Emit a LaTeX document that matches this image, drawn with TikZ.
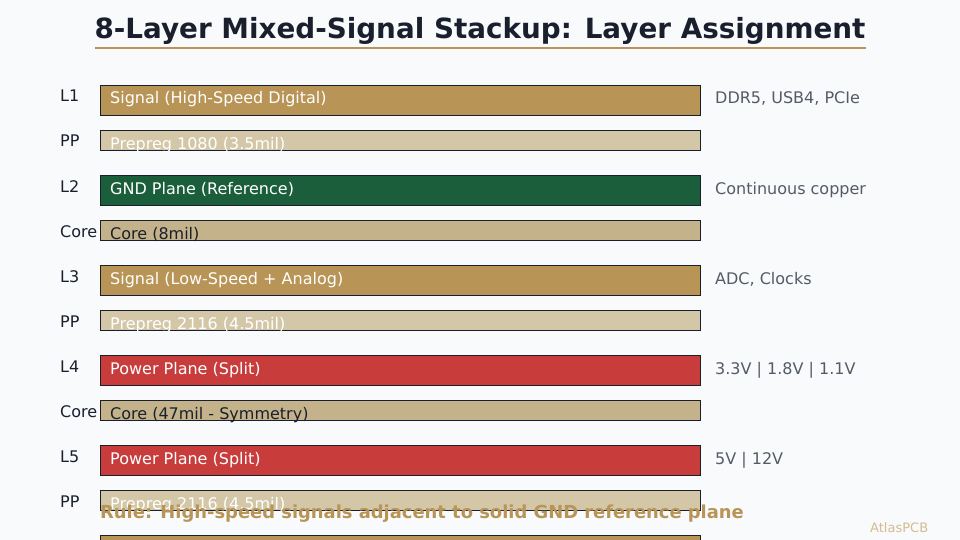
\documentclass[tikz,border=0pt]{standalone}
\usepackage{fontspec}
\setmainfont{DejaVu Sans}
\usepackage{tikz}

\definecolor{paper}{HTML}{F8FAFC}
\definecolor{ink}{HTML}{1A1F2E}
\definecolor{copper}{HTML}{B89456}
\definecolor{prepreg}{HTML}{D3C7A8}
\definecolor{corefill}{HTML}{C4B38A}
\definecolor{gndgreen}{HTML}{1B5E3B}
\definecolor{pwrred}{HTML}{C83C3C}
\definecolor{notegrey}{HTML}{555B66}
\definecolor{brand}{HTML}{D4BC90}

\begin{document}
\begin{tikzpicture}[x=1pt, y=-1pt,
  layerbar/.style={draw=ink, line width=1pt, minimum width=600pt, inner sep=0pt, anchor=north west},
  metal/.style={layerbar, minimum height=30pt},
  dielectric/.style={layerbar, minimum height=20pt},
  txt/.style={anchor=base west, inner sep=0pt, font=\fontsize{16}{19}\selectfont},
  tag/.style={txt, text=ink},
  note/.style={txt, text=notegrey},
  intext/.style={txt, text=white},
  coretext/.style={txt, text=ink}]

\clip (0,0) rectangle (960,540);
\fill[paper] (0,0) rectangle (960,540);

% title
\node[anchor=base, inner sep=0pt, text=ink, font=\fontsize{27.8}{32}\selectfont\bfseries] (title) at (480,39) {8-Layer Mixed-Signal Stackup: Layer Assignment};
\draw[copper, line width=2pt] (95,48) -- (866,48);

% bars
\node[metal, fill=copper] (bar1) at (100,85) {};
\node[dielectric, fill=prepreg] (bar2) at (100,130) {};
\node[metal, fill=gndgreen] (bar3) at (100,175) {};
\node[dielectric, fill=corefill] (bar4) at (100,220) {};
\node[metal, fill=copper] (bar5) at (100,265) {};
\node[dielectric, fill=prepreg] (bar6) at (100,310) {};
\node[metal, fill=pwrred] (bar7) at (100,355) {};
\node[dielectric, fill=corefill] (bar8) at (100,400) {};
\node[metal, fill=pwrred] (bar9) at (100,445) {};
\node[dielectric, fill=prepreg] (bar10) at (100,490) {};
\node[metal, fill=copper] (bar11) at (100,535) {};

% layer names
\node[tag] (tag1) at (60,102) {L1};
\node[tag] (tag2) at (60,147) {PP};
\node[tag] (tag3) at (60,192) {L2};
\node[tag] (tag4) at (60,237) {Core};
\node[tag] (tag5) at (60,282) {L3};
\node[tag] (tag6) at (60,327) {PP};
\node[tag] (tag7) at (60,372) {L4};
\node[tag] (tag8) at (60,417) {Core};
\node[tag] (tag9) at (60,462) {L5};
\node[tag] (tag10) at (60,507) {PP};

% text in the bars
\node[intext] (in1) at (110,104) {Signal (High-Speed Digital)};
\node[intext] (in2) at (110,149.5) {Prepreg 1080 (3.5mil)};
\node[intext] (in3) at (110,194) {GND Plane (Reference)};
\node[coretext] (in4) at (110,239.5) {Core (8mil)};
\node[intext] (in5) at (110,284) {Signal (Low-Speed + Analog)};
\node[intext] (in6) at (110,329.5) {Prepreg 2116 (4.5mil)};
\node[intext] (in7) at (110,374) {Power Plane (Split)};
\node[coretext] (in8) at (110,419.5) {Core (47mil - Symmetry)};
\node[intext] (in9) at (110,464) {Power Plane (Split)};
\node[intext] (in10) at (110,509.5) {Prepreg 2116 (4.5mil)};

% notes on the right
\node[note] (note1) at (715,104) {DDR5, USB4, PCIe};
\node[note] (note3) at (715,194) {Continuous copper};
\node[note] (note5) at (715,284) {ADC, Clocks};
\node[note] (note7) at (715,374) {3.3V | 1.8V | 1.1V};
\node[note] (note9) at (715,464) {5V | 12V};

\node[anchor=base west, inner sep=0pt, text=copper, font=\fontsize{17.9}{21}\selectfont\bfseries] (rule) at (100,518) {Rule: High-speed signals adjacent to solid GND reference plane};
\node[anchor=base west, inner sep=0pt, text=brand, font=\fontsize{13}{15}\selectfont] (brand) at (870,532) {AtlasPCB};

\end{tikzpicture}
\end{document}
